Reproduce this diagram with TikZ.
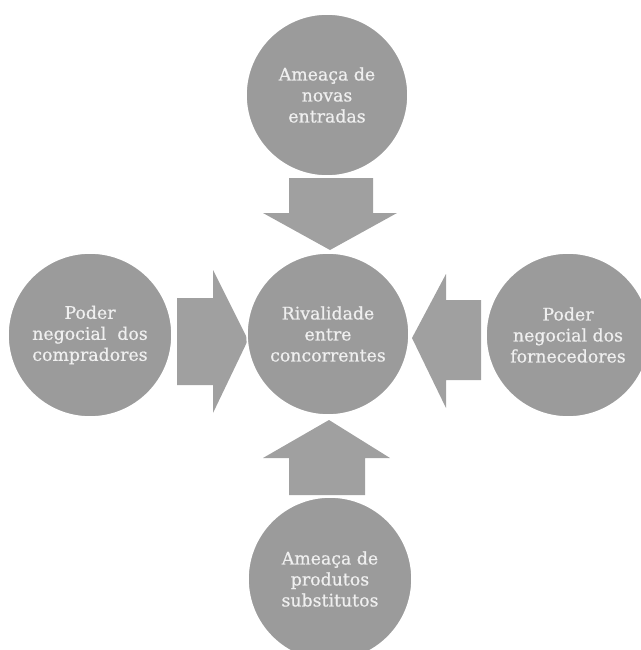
\documentclass[tikz,border=0pt]{standalone}
\usepackage{fontspec}
\setmainfont[FakeBold=0.7]{DejaVu Serif}
\definecolor{circfill}{HTML}{9B9B9B}
\definecolor{arrowfill}{HTML}{A0A0A0}
\definecolor{txtcol}{HTML}{EFEFEF}
\tikzset{
  force/.style={circle, fill=circfill, draw=white, line width=1.2pt,
    inner sep=0pt, align=center, text=txtcol,
    font=\fontsize{13pt}{15.75pt}\selectfont},
  blockarrow/.style={fill=arrowfill, draw=none}
}
\begin{document}
\begin{tikzpicture}[x=0.75pt,y=-0.75pt]
\useasboundingbox (0,0) rectangle (641,650);
\clip (0,0) rectangle (641,650);
% block arrows
\fill[blockarrow] (289,178) -- (373,178) -- (373,213) -- (397,213) -- (330,250) -- (263,213) -- (289,213) -- cycle;
\fill[blockarrow] (177,298) -- (213,298) -- (213,270) -- (248,340) -- (213,413) -- (213,385) -- (177,385) -- cycle;
\fill[blockarrow] (481,300) -- (446,300) -- (446,274) -- (412,338) -- (446,408) -- (446,380) -- (481,380) -- cycle;
\fill[blockarrow] (289,495) -- (365,495) -- (365,458) -- (390,458) -- (329,420) -- (263,458) -- (289,458) -- cycle;
% circles
\node[force, minimum size=121.5pt] (top) at (327,95) {Ameaça de\\novas\\entradas};
\node[force, minimum size=121.5pt] (mid) at (328,334) {Rivalidade\\entre\\concorrentes};
\node[force, minimum size=123pt] (left) at (90,335) {Poder\\negocial\ \ dos\\compradores};
\node[force, minimum size=123pt] (right) at (568,335) {Poder\\negocial dos\\fornecedores};
\node[force, minimum size=123pt] (bottom) at (330,579) {Ameaça de\\produtos\\substitutos};
\end{tikzpicture}
\end{document}
